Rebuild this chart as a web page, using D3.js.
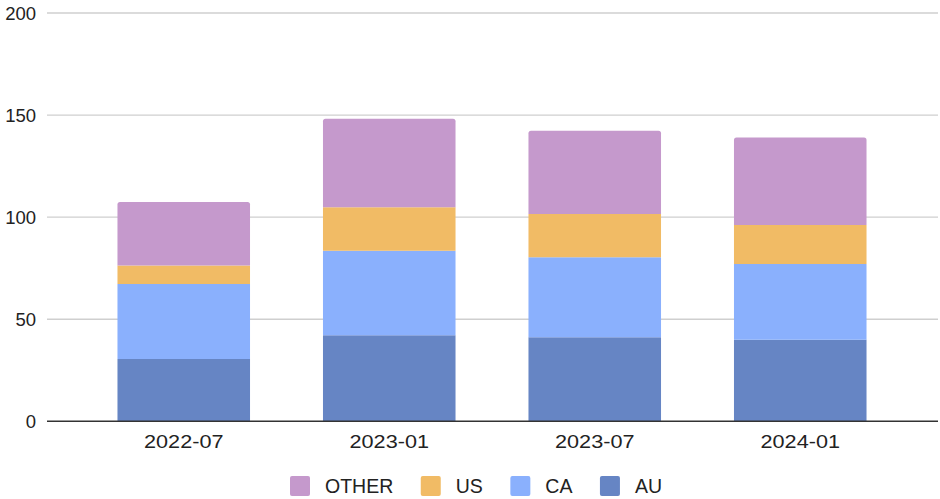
<!DOCTYPE html>
<html>
<head>
<meta charset="utf-8">
<script src="https://cdn.jsdelivr.net/npm/d3@7"></script>
<style>
  html, body { margin: 0; padding: 0; background: #fff; }
  svg { display: block; font-family: Arial, "Liberation Sans", sans-serif; }
</style>
</head>
<body>
<svg id="chart" width="940" height="499"></svg>
<script>
const categories = ["2022-07", "2023-01", "2023-07", "2024-01"];
const seriesNames = ["AU", "CA", "US", "OTHER"];
const AU    = [30.5, 42.2, 41.2, 39.9];
const CA    = [36.8, 41.4, 39.2, 37.2];
const US    = [9.0, 21.3, 21.2, 19.0];
const OTHER = [31.1, 43.3, 40.7, 42.9];
const yTicks = [0, 50, 100, 150, 200];
const legendOrder = ["OTHER", "US", "CA", "AU"];
const colors = { AU: "#6685c4", CA: "#8ab0fd", US: "#f1bb65", OTHER: "#c599cc" };

const seriesValues = { AU, CA, US, OTHER };
const table = categories.map((c, i) => {
  const row = { cat: c };
  seriesNames.forEach(s => row[s] = seriesValues[s][i]);
  return row;
});

const svg = d3.select("#chart");
const plotLeft = 47, plotRight = 938, plotTop = 13, plotBottom = 421.3;

const y = d3.scaleLinear().domain([0, 200]).range([plotBottom, plotTop]);
const x = d3.scaleBand().domain(categories).range([81, 903])
  .paddingInner(0.355).paddingOuter(0.1775);

// gridlines
svg.append("g").selectAll("line").data(yTicks.filter(t => t !== 0)).join("line")
  .attr("x1", plotLeft).attr("x2", plotRight)
  .attr("y1", d => y(d)).attr("y2", d => y(d))
  .attr("stroke", "#cfcfcf").attr("stroke-width", 1.4);

// y labels
const yAxis = d3.axisLeft(y).tickValues(yTicks).tickSize(0).tickPadding(0);
const gy = svg.append("g").attr("transform", `translate(36,0)`).call(yAxis);
gy.select(".domain").remove();
gy.selectAll("text").attr("font-size", 18.5).attr("fill", "#222")
  .attr("font-family", "Arial, 'Liberation Sans', sans-serif").attr("dy", "0.36em");

// stacked bars
const stack = d3.stack().keys(seriesNames);
const layers = stack(table);
const r = 2.5;
layers.forEach((layer, li) => {
  const key = layer.key;
  const isTop = li === layers.length - 1;
  svg.append("g").selectAll("path").data(layer).join("path")
    .attr("fill", colors[key])
    .attr("d", d => {
      const x0 = x(d.data.cat), w = x.bandwidth();
      const yt = y(d[1]), yb = y(d[0]);
      if (!isTop) return `M${x0},${yb}V${yt}H${x0 + w}V${yb}Z`;
      return `M${x0},${yb}V${yt + r}Q${x0},${yt} ${x0 + r},${yt}H${x0 + w - r}Q${x0 + w},${yt} ${x0 + w},${yt + r}V${yb}Z`;
    });
});

// baseline
svg.append("line").attr("x1", plotLeft).attr("x2", plotRight)
  .attr("y1", y(0)).attr("y2", y(0)).attr("stroke", "#333").attr("stroke-width", 1.5);

// x labels
const xAxis = d3.axisBottom(x).tickSize(0).tickPadding(0);
const gx = svg.append("g").attr("transform", `translate(0,448)`).call(xAxis);
gx.select(".domain").remove();
gx.selectAll("text").attr("font-size", 18.5).attr("fill", "#222")
  .attr("font-family", "Arial, 'Liberation Sans', sans-serif")
  .attr("dy", 0).attr("y", 0).attr("transform", "scale(1.17,1)");

// legend
const legend = svg.append("g");
let lx = 290;
legendOrder.forEach(name => {
  legend.append("rect").attr("x", lx).attr("y", 476).attr("width", 20).attr("height", 20)
    .attr("rx", 2).attr("fill", colors[name]);
  const t = legend.append("text").attr("x", lx + 35).attr("y", 493)
    .attr("font-size", 19.5).attr("fill", "#222").text(name);
  const w = t.node().getComputedTextLength();
  lx = lx + 35 + w + 27.5;
});
</script>
</body>
</html>
